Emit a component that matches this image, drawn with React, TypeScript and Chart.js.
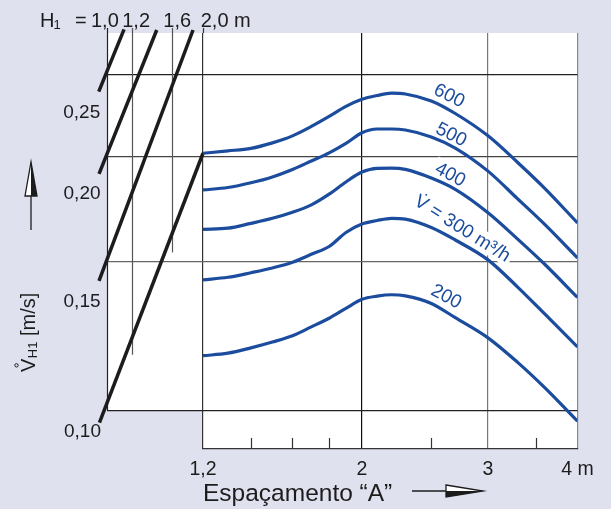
import React, { useEffect, useRef } from 'react';
import { Chart, registerables } from 'chart.js';

Chart.register(...registerables);

// ---------- data ----------
// Right panel: spacing "A" [m] (log axis) and air velocity V_H1 [m/s] for each flow rate
const spacingA = [1.2, 1.3, 1.4, 1.5, 1.6, 1.7, 1.8, 1.9, 2.0, 2.1, 2.2, 2.3, 2.5, 2.7, 3.0, 3.3, 3.6, 4.0];
const v600 = [0.2018, 0.2031, 0.2045, 0.2076, 0.2116, 0.2171, 0.2231, 0.2293, 0.2338, 0.2362, 0.2377, 0.2372, 0.2327, 0.2249, 0.2116, 0.1968, 0.1834, 0.1669];
const v500 = [0.1826, 0.1838, 0.1862, 0.1892, 0.1931, 0.1976, 0.2020, 0.2073, 0.2134, 0.2156, 0.2156, 0.2150, 0.2110, 0.2047, 0.1922, 0.1782, 0.1662, 0.1517];
const v400 = [0.1640, 0.1645, 0.1667, 0.1690, 0.1718, 0.1753, 0.1805, 0.1866, 0.1917, 0.1937, 0.1938, 0.1931, 0.1886, 0.1829, 0.1716, 0.1597, 0.1491, 0.1362];
const v300 = [0.1429, 0.1439, 0.1457, 0.1476, 0.1499, 0.1532, 0.1565, 0.1626, 0.1664, 0.1680, 0.1690, 0.1686, 0.1648, 0.1593, 0.1509, 0.1401, 0.1302, 0.1190];
const v200 = [0.1162, 0.1170, 0.1187, 0.1206, 0.1227, 0.1257, 0.1287, 0.1322, 0.1355, 0.1367, 0.1372, 0.1368, 0.1340, 0.1289, 0.1220, 0.1141, 0.1065, 0.0972];
const flowSeries = [v600, v500, v400, v300, v200];
const flowLabels = ['600', '500', '400', 'V\u0307 = 300 m³/h', '200'];
// label anchors (spacing A, velocity) for the curve labels
const flowLabelA = [2.647, 2.664, 2.656, 2.760, 2.622];
const flowLabelV = [0.2359, 0.2121, 0.1902, 0.1642, 0.1364];

// x-axis ticks (spacing A)
const aMajorTicks = [1.2, 2, 3, 4];
const aTickLabels = ['1,2', '2', '3', '4 m'];
const aMinorTicks = [1.4, 1.6, 1.8, 2.5, 3.5];

// y grid values (velocity)
const vGridValues = [0.10, 0.15, 0.20, 0.25];
const vGridLabels = ['0,10', '0,15', '0,20', '0,25'];

// Left panel: height H1 [m] (log axis)
const h1Ticks = [1.0, 1.2, 1.6, 2.0];
const h1TickLabels = ['1,0', '1,2', '1,6', '2,0 m'];
const h1GridEndV = [0.10, 0.1165, 0.154, 0.2801];

// Conversion lines in the H1 panel (one per velocity 0,25 / 0,20 / 0,15 / 0,10)
const convLabels = ['0,25', '0,20', '0,15', '0,10'];
const convLowH = [0.942, 0.944, 0.944, 0.947];
const convLowV = [0.2387, 0.1908, 0.1425, 0.0968];
const convHighH = [1.131, 1.432, 1.861, 2.0];
const convHighV = [0.2829, 0.2824, 0.2824, 0.2018];

// ---------- styles ----------
const LAVENDER = '#dfe1ef';
const BLUE = '#1b4c9d';
const INK = '#1c1c1c';
const FONT = '"Liberation Sans", Arial, Helvetica, sans-serif';
const LABEL_ANGLES = [27, 27, 28, 32, 28];

const nomogramPlugin: any = {
  id: 'nomogram',
  beforeDraw(chart: any) {
    const { ctx, chartArea: ca, scales } = chart;
    const xh = scales.xh, xa = scales.xa, y = scales.y;
    ctx.save();
    ctx.fillStyle = LAVENDER;
    ctx.fillRect(0, 0, chart.width, chart.height);
    const left = xh.getPixelForValue(1.0);
    const mid = xa.getPixelForValue(1.2);
    const right = xa.getPixelForValue(4.0);
    const yBase = y.getPixelForValue(0.10);
    ctx.fillStyle = '#ffffff';
    ctx.fillRect(left, ca.top, right - left, yBase - ca.top);
    ctx.fillRect(mid, ca.top, right - mid, ca.bottom - ca.top);
    ctx.restore();
  },
  beforeDatasetsDraw(chart: any) {
    const { ctx, chartArea: ca, scales } = chart;
    const xh = scales.xh, xa = scales.xa, y = scales.y;
    ctx.save();
    // H1 panel vertical lines and top ticks
    const colors = ['#222', '#555', '#555', '#333'];
    h1Ticks.forEach((h, i) => {
      const px = Math.round(xh.getPixelForValue(h)) + 0.5;
      const yEnd = i === h1Ticks.length - 1 ? ca.top : y.getPixelForValue(h1GridEndV[i]);
      ctx.strokeStyle = colors[i];
      ctx.lineWidth = 1.2;
      ctx.beginPath();
      ctx.moveTo(px, ca.top - 5);
      ctx.lineTo(px, yEnd);
      ctx.stroke();
    });
    // minor ticks on the spacing axis (pointing up)
    ctx.strokeStyle = '#333';
    ctx.lineWidth = 1.2;
    aMinorTicks.forEach((a) => {
      const px = Math.round(xa.getPixelForValue(a)) + 0.5;
      ctx.beginPath();
      ctx.moveTo(px, ca.bottom);
      ctx.lineTo(px, ca.bottom - 11);
      ctx.stroke();
    });
    // white backgrounds behind curve labels
    ctx.font = `19px ${FONT}`;
    flowLabels.forEach((t, i) => {
      const px = xa.getPixelForValue(flowLabelA[i]);
      const py = y.getPixelForValue(flowLabelV[i]);
      const ang = LABEL_ANGLES[i] * Math.PI / 180;
      const w = ctx.measureText(t).width;
      ctx.save();
      ctx.translate(px, py);
      ctx.rotate(ang);
      ctx.fillStyle = '#ffffff';
      ctx.fillRect(-w / 2 - 3, -11, w + 6, 20);
      ctx.restore();
    });
    ctx.restore();
  },
  afterDatasetsDraw(chart: any) {
    const { ctx, chartArea: ca, scales } = chart;
    const xh = scales.xh, xa = scales.xa, y = scales.y;
    ctx.save();
    // curve labels
    ctx.font = `19px ${FONT}`;
    ctx.fillStyle = BLUE;
    ctx.textAlign = 'center';
    ctx.textBaseline = 'middle';
    flowLabels.forEach((t, i) => {
      const px = xa.getPixelForValue(flowLabelA[i]);
      const py = y.getPixelForValue(flowLabelV[i]);
      const ang = LABEL_ANGLES[i] * Math.PI / 180;
      ctx.save();
      ctx.translate(px, py);
      ctx.rotate(ang);
      ctx.fillText(t, 0, 0);
      ctx.restore();
    });

    // velocity labels at the lower ends of the conversion lines
    ctx.fillStyle = INK;
    ctx.textAlign = 'right';
    ctx.textBaseline = 'middle';
    ctx.font = `19px ${FONT}`;
    const dys = [21, 20, 21, 9];
    convLabels.forEach((t, i) => {
      const px = xh.getPixelForValue(convLowH[i]);
      const py = y.getPixelForValue(convLowV[i]);
      ctx.fillText(t, px + 1.5, py + dys[i]);
    });

    // top H1 labels
    const left = xh.getPixelForValue(1.0);
    const baseY = ca.top - 6;
    ctx.textAlign = 'left';
    ctx.textBaseline = 'alphabetic';
    ctx.font = `20px ${FONT}`;
    ctx.fillText('H', left - 67, baseY);
    ctx.font = `13px ${FONT}`;
    ctx.fillText('1', left - 53.5, baseY + 1.5);
    ctx.font = `20px ${FONT}`;
    ctx.fillText('=', left - 32, baseY);
    const dxs = [-16, -10, -8.8, -2.3];
    h1TickLabels.forEach((t, i) => {
      ctx.fillText(t, xh.getPixelForValue(h1Ticks[i]) + dxs[i], baseY);
    });

    // y axis title  V̇H1 [m/s]
    ctx.save();
    ctx.translate(ca.left - 72, ca.bottom - 77);
    ctx.rotate(-Math.PI / 2);
    ctx.textAlign = 'left';
    ctx.textBaseline = 'alphabetic';
    ctx.font = `20px ${FONT}`;
    ctx.fillText('V', 0, 0);
    const wV = ctx.measureText('V').width;
    ctx.strokeStyle = INK;
    ctx.lineWidth = 1;
    ctx.beginPath();
    ctx.arc(wV / 2, -18.5, 1.7, 0, Math.PI * 2);
    ctx.stroke();
    ctx.font = `13px ${FONT}`;
    ctx.fillText('H1', wV + 0.5, 1.5);
    const wH = ctx.measureText('H1').width;
    ctx.font = `20px ${FONT}`;
    ctx.fillText(' [m/s]', wV + wH + 0.5, 0);
    ctx.restore();

    // y arrow
    const ax = ca.left - 76;
    ctx.strokeStyle = INK;
    ctx.lineWidth = 1.3;
    ctx.beginPath();
    ctx.moveTo(ax, ca.bottom - 219);
    ctx.lineTo(ax, ca.top + 163);
    ctx.stroke();
    ctx.beginPath();
    ctx.moveTo(ax, ca.top + 129);
    ctx.lineTo(ax - 6, ca.top + 163);
    ctx.lineTo(ax + 6, ca.top + 163);
    ctx.closePath();
    ctx.fillStyle = '#ffffff';
    ctx.fill();
    ctx.beginPath();
    ctx.moveTo(ax, ca.top + 129);
    ctx.lineTo(ax + 6, ca.top + 163);
    ctx.lineTo(ax, ca.top + 163);
    ctx.closePath();
    ctx.fillStyle = INK;
    ctx.fill();
    ctx.beginPath();
    ctx.moveTo(ax, ca.top + 129);
    ctx.lineTo(ax - 6, ca.top + 163);
    ctx.lineTo(ax + 6, ca.top + 163);
    ctx.closePath();
    ctx.stroke();

    // x arrow
    const sx = xa.left + 209;
    const sy = ca.bottom + 42;
    ctx.beginPath();
    ctx.moveTo(sx, sy);
    ctx.lineTo(sx + 34, sy);
    ctx.stroke();
    ctx.beginPath();
    ctx.moveTo(sx + 34, sy - 6);
    ctx.lineTo(sx + 71, sy);
    ctx.lineTo(sx + 34, sy + 6);
    ctx.closePath();
    ctx.fillStyle = '#ffffff';
    ctx.fill();
    ctx.beginPath();
    ctx.moveTo(sx + 34, sy);
    ctx.lineTo(sx + 71, sy);
    ctx.lineTo(sx + 34, sy + 6);
    ctx.closePath();
    ctx.fillStyle = INK;
    ctx.fill();
    ctx.beginPath();
    ctx.moveTo(sx + 34, sy - 6);
    ctx.lineTo(sx + 71, sy);
    ctx.lineTo(sx + 34, sy + 6);
    ctx.closePath();
    ctx.stroke();

    ctx.restore();
  },
};

function makeConfig(): any {
  const curveDatasets = flowSeries.map((vals, i) => ({
    label: flowLabels[i],
    xAxisID: 'xa',
    yAxisID: 'y',
    data: spacingA.map((a, j) => ({ x: a, y: vals[j] })),
    borderColor: BLUE,
    borderWidth: 3.2,
    pointRadius: 0,
    fill: false,
    cubicInterpolationMode: 'monotone',
  }));
  const convDatasets = convLabels.map((lab, i) => ({
    label: 'H1 ' + lab,
    xAxisID: 'xh',
    yAxisID: 'y',
    data: [
      { x: convLowH[i], y: convLowV[i] },
      { x: convHighH[i], y: convHighV[i] },
    ],
    borderColor: INK,
    borderWidth: 3.5,
    pointRadius: 0,
    fill: false,
    clip: false,
  }));
  const xaGridColors: Record<string, string> = { '1.2': '#333', '2': '#111', '3': '#777', '4': '#888' };
  const yGridColors: Record<string, string> = { '0.1': '#222', '0.15': '#666', '0.2': '#444', '0.25': '#222' };
  return {
    type: 'line',
    data: { datasets: [...curveDatasets, ...convDatasets] },
    plugins: [nomogramPlugin],
    options: {
      animation: false,
      responsive: false,
      maintainAspectRatio: false,
      events: [],
      layout: { padding: { top: 33, right: 33.5, bottom: 0, left: 0 } },
      plugins: { legend: { display: false }, tooltip: { enabled: false }, title: { display: false } },
      scales: {
        xh: {
          type: 'logarithmic',
          position: 'bottom',
          stack: 'x',
          stackWeight: 96,
          weight: 0,
          min: 1.0,
          max: 2.0,
          grid: { display: false },
          border: { display: false },
          ticks: { display: false },
          afterFit: (s: any) => { s.height = 60; },
        },
        xa: {
          type: 'logarithmic',
          position: 'bottom',
          stack: 'x',
          stackWeight: 374.5,
          weight: 1,
          min: 1.2,
          max: 4.0,
          afterBuildTicks: (s: any) => { s.ticks = aMajorTicks.map((v) => ({ value: v })); },
          ticks: {
            autoSkip: false,
            maxRotation: 0,
            padding: 9,
            color: INK,
            font: { family: FONT, size: 19.5 },
            callback: (_v: any, i: number) => aTickLabels[i],
          },
          grid: {
            drawTicks: false,
            lineWidth: 1.2,
            color: (c: any) => (c.tick ? xaGridColors[String(c.tick.value)] || '#555' : '#555'),
          },
          border: { display: true, color: '#333', width: 1.2 },
          title: {
            display: true,
            text: 'Espaçamento “A”',
            align: 'start',
            color: INK,
            font: { family: FONT, size: 24.5 },
            padding: { top: 0, bottom: 0 },
          },
          afterFit: (s: any) => { s.height = 60; },
        },
        y: {
          type: 'logarithmic',
          position: 'left',
          min: 0.0901,
          max: 0.2801,
          afterBuildTicks: (s: any) => { s.ticks = vGridValues.map((v) => ({ value: v })); },
          ticks: { display: false, callback: (_v: any, i: number) => vGridLabels[i] },
          grid: {
            drawTicks: false,
            lineWidth: 1.2,
            color: (c: any) => (c.tick ? yGridColors[String(c.tick.value)] || '#555' : '#555'),
          },
          border: { display: false },
          afterFit: (s: any) => { s.width = 107; },
        },
      },
    },
  };
}

export default function App() {
  const ref = useRef<HTMLCanvasElement>(null);
  useEffect(() => {
    if (!ref.current) return;
    const chart = new Chart(ref.current, makeConfig());
    return () => chart.destroy();
  }, []);
  return (
    <div style={{ position: 'fixed', left: 0, top: 0, width: 611, height: 509, background: LAVENDER }}>
      <canvas ref={ref} width={611} height={509} style={{ display: 'block' }} />
    </div>
  );
}
